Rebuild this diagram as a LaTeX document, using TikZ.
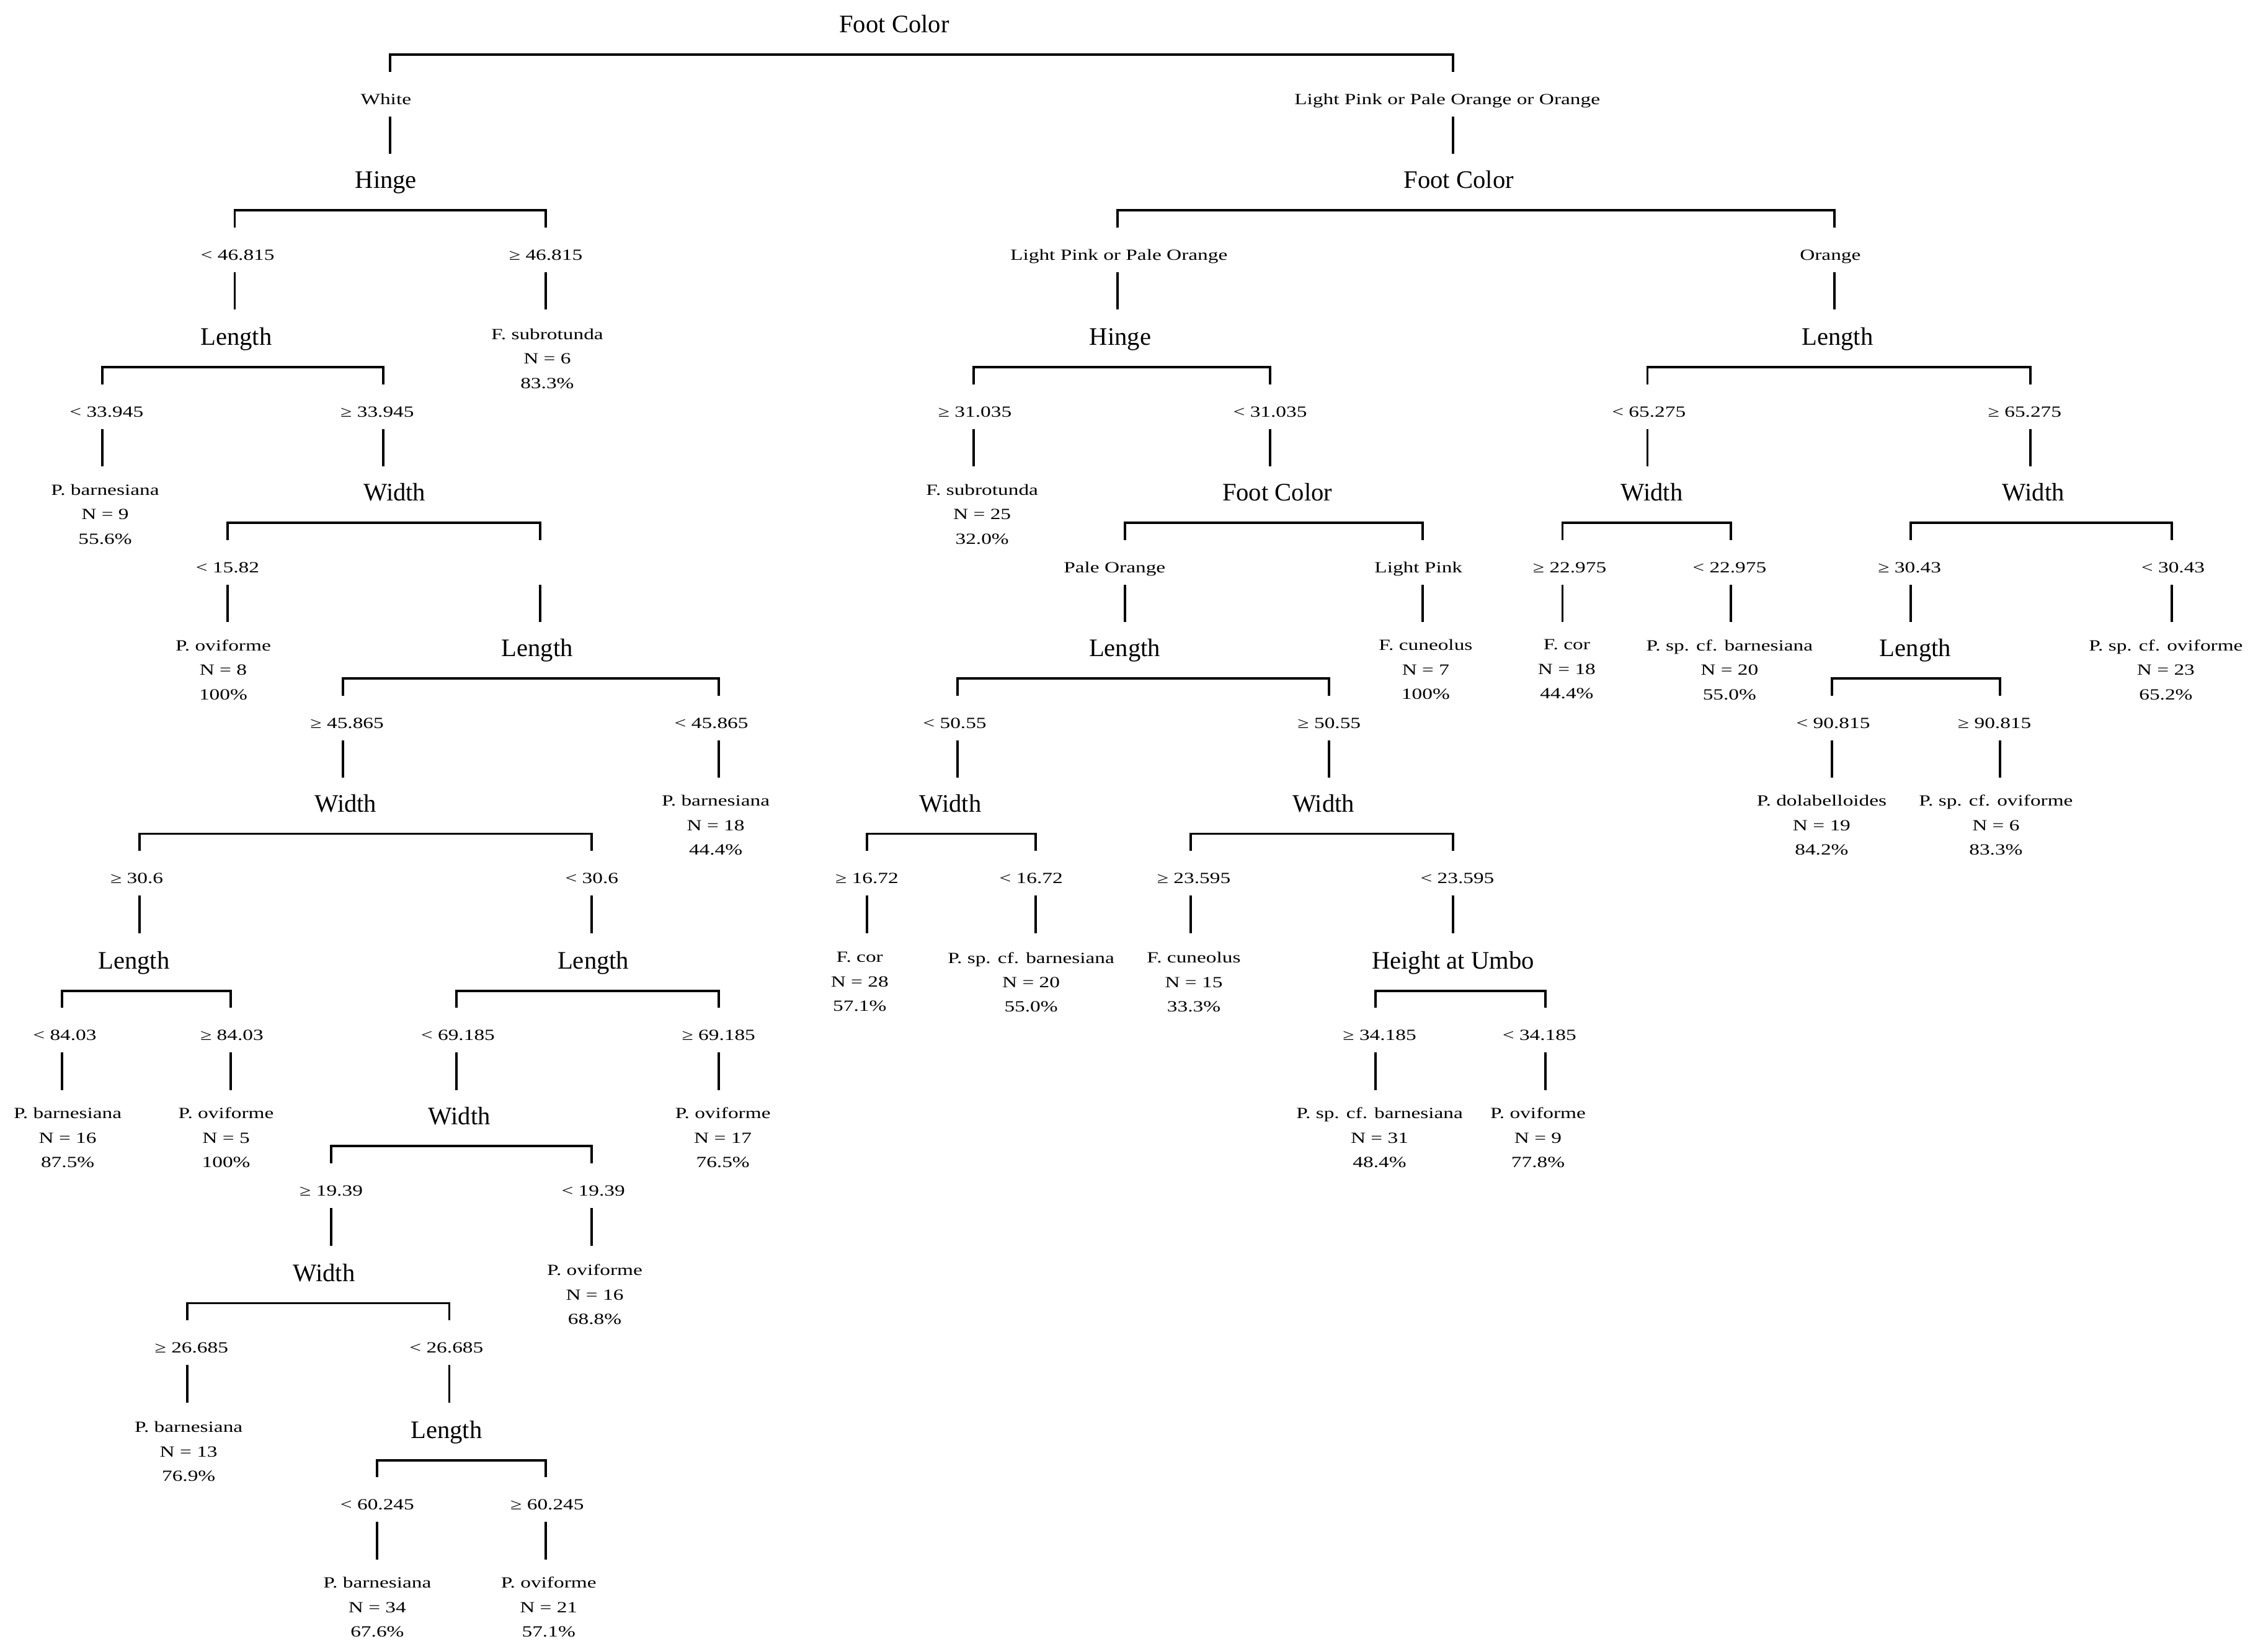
\documentclass[tikz,border=0pt]{standalone}
\usepackage{fontspec}
\setmainfont{Liberation Serif}
\newfontfamily\stretchfont{Liberation Serif}[FakeStretch=1.33]
\usetikzlibrary{calc}
\tikzset{
  edge/.style={line width=1.7pt},
  nm/.style={font=\fontsize{17.5}{20}\selectfont, inner sep=0pt, anchor=base},
  lab/.style={font=\stretchfont\fontsize{10.8}{17}\selectfont, inner sep=0pt, anchor=base},
  leaf/.style={font=\stretchfont\fontsize{10.8}{17}\selectfont, inner sep=0pt, anchor=north, align=center},
}
% split node: id, x, level y, text
\newcommand\tnode[4]{\node[nm] (#1) at (#2, #3+5.8) {#4};}
% leaf: id, x, level y, text
\newcommand\tleaf[4]{\node[leaf] (#1) at (#2, #3-6) {#4};}
% branch: id, parent y, line x, label x, label text
\newcommand\tbr[5]{%
  \node[lab] (#1) at (#4, #2+55.6) {#5};
  \coordinate (#1u) at (#3, #2+33);
  \coordinate (#1t) at (#3, #2+64);
  \coordinate (#1b) at (#3, #2+90);
  \draw[edge] (#1t) -- (#1b);
}
% bracket between two branches
\newcommand\tbrk[2]{\draw[edge] (#1u) -- ++(0,-12) -| (#2u);}
\begin{document}
\begin{tikzpicture}[x=1pt,y=-1pt]
\fill[white] (0,0) rectangle (1568,1147);
\useasboundingbox (0,0) rectangle (1568,1147);

% level 0
\tnode{root}{621}{17}{Foot Color}
\tbr{rA}{17}{271}{268}{White}
\tbr{rB}{17}{1009}{1005}{Light Pink or Pale Orange or Orange}
\tbrk{rA}{rB}

% level 1
\tnode{hgA}{268}{125}{Hinge}
\tbr{hgAa}{125}{163}{165}{< 46.815}
\tbr{hgAb}{125}{379}{379}{≥ 46.815}
\tbrk{hgAa}{hgAb}
\tnode{fcB}{1013}{125}{Foot Color}
\tbr{fcBa}{125}{776}{777}{Light Pink or Pale Orange}
\tbr{fcBb}{125}{1274}{1271}{Orange}
\tbrk{fcBa}{fcBb}

% level 2
\tnode{lnA}{164}{234}{Length}
\tbr{lnAa}{234}{71}{74}{< 33.945}
\tbr{lnAb}{234}{266}{262}{≥ 33.945}
\tbrk{lnAa}{lnAb}
\tleaf{lf1}{380}{234}{F. subrotunda\\N = 6\\83.3\%}
\tnode{hgB}{778}{234}{Hinge}
\tbr{hgBa}{234}{676}{677}{≥ 31.035}
\tbr{hgBb}{234}{882}{882}{< 31.035}
\tbrk{hgBa}{hgBb}
\tnode{lnB}{1276}{234}{Length}
\tbr{lnBa}{234}{1144}{1145}{< 65.275}
\tbr{lnBb}{234}{1410}{1406}{≥ 65.275}
\tbrk{lnBa}{lnBb}

% level 3
\tleaf{lf2}{73}{342}{P. barnesiana\\N = 9\\55.6\%}
\tnode{wdA}{274}{342}{Width}
\tbr{wdAa}{342}{158}{158}{< 15.82}
\coordinate (wdAbu) at (375,342+33);
\coordinate (wdAbt) at (375,342+64);
\coordinate (wdAbb) at (375,342+90);
\draw[edge] (wdAbt) -- (wdAbb);
\tbrk{wdAa}{wdAb}
\tleaf{lf3}{682}{342}{F. subrotunda\\N = 25\\32.0\%}
\tnode{fcC}{887}{342}{Foot Color}
\tbr{fcCa}{342}{781}{774}{Pale Orange}
\tbr{fcCb}{342}{988}{985}{Light Pink}
\tbrk{fcCa}{fcCb}
\tnode{wdB}{1147}{342}{Width}
\tbr{wdBa}{342}{1085}{1090}{≥ 22.975}
\tbr{wdBb}{342}{1202}{1201}{< 22.975}
\tbrk{wdBa}{wdBb}
\tnode{wdC}{1412}{342}{Width}
\tbr{wdCa}{342}{1327}{1326}{≥ 30.43}
\tbr{wdCb}{342}{1508}{1509}{< 30.43}
\tbrk{wdCa}{wdCb}

% level 4
\tleaf{lf4}{155}{450}{P. oviforme\\N = 8\\100\%}
\tnode{lnC}{373}{450}{Length}
\tbr{lnCa}{450}{238}{241}{≥ 45.865}
\tbr{lnCb}{450}{499}{494}{< 45.865}
\tbrk{lnCa}{lnCb}
\tnode{lnD}{781}{450}{Length}
\tbr{lnDa}{450}{665}{663}{< 50.55}
\tbr{lnDb}{450}{923}{923}{≥ 50.55}
\tbrk{lnDa}{lnDb}
\tleaf{lf5}{990}{450}{F. cuneolus\\N = 7\\100\%}
\tleaf{lf6}{1088}{450}{F. cor\\N = 18\\44.4\%}
\tleaf{lf7}{1201}{450}{P. sp. cf. barnesiana\\N = 20\\55.0\%}
\tnode{lnE}{1330}{450}{Length}
\tbr{lnEa}{450}{1272}{1273}{< 90.815}
\tbr{lnEb}{450}{1389}{1385}{≥ 90.815}
\tbrk{lnEa}{lnEb}
\tleaf{lf8}{1504}{450}{P. sp. cf. oviforme\\N = 23\\65.2\%}

% level 5
\tnode{wdD}{240}{558}{Width}
\tbr{wdDa}{558}{97}{95}{≥ 30.6}
\tbr{wdDb}{558}{411}{411}{< 30.6}
\tbrk{wdDa}{wdDb}
\tleaf{lf9}{497}{558}{P. barnesiana\\N = 18\\44.4\%}
\tnode{wdE}{660}{558}{Width}
\tbr{wdEa}{558}{602}{602}{≥ 16.72}
\tbr{wdEb}{558}{719}{716}{< 16.72}
\tbrk{wdEa}{wdEb}
\tnode{wdF}{919}{558}{Width}
\tbr{wdFa}{558}{827}{829}{≥ 23.595}
\tbr{wdFb}{558}{1009}{1012}{< 23.595}
\tbrk{wdFa}{wdFb}
\tleaf{lf10}{1265}{558}{P. dolabelloides\\N = 19\\84.2\%}
\tleaf{lf11}{1386}{558}{P. sp. cf. oviforme\\N = 6\\83.3\%}

% level 6
\tnode{lnF}{93}{667}{Length}
\tbr{lnFa}{667}{43}{45}{< 84.03}
\tbr{lnFb}{667}{160}{161}{≥ 84.03}
\tbrk{lnFa}{lnFb}
\tnode{lnG}{412}{667}{Length}
\tbr{lnGa}{667}{317}{318}{< 69.185}
\tbr{lnGb}{667}{499}{499}{≥ 69.185}
\tbrk{lnGa}{lnGb}
\tleaf{lf12}{597}{667}{F. cor\\N = 28\\57.1\%}
\tleaf{lf13}{716}{667}{P. sp. cf. barnesiana\\N = 20\\55.0\%}
\tleaf{lf14}{829}{667}{F. cuneolus\\N = 15\\33.3\%}
\tnode{hu}{1009}{667}{Height at Umbo}
\tbr{hua}{667}{955}{958}{≥ 34.185}
\tbr{hub}{667}{1073}{1069}{< 34.185}
\tbrk{hua}{hub}

% level 7
\tleaf{lf15}{47}{775}{P. barnesiana\\N = 16\\87.5\%}
\tleaf{lf16}{157}{775}{P. oviforme\\N = 5\\100\%}
\tnode{wdG}{319}{775}{Width}
\tbr{wdGa}{775}{230}{230}{≥ 19.39}
\tbr{wdGb}{775}{411}{412}{< 19.39}
\tbrk{wdGa}{wdGb}
\tleaf{lf17}{502}{775}{P. oviforme\\N = 17\\76.5\%}
\tleaf{lf18}{958}{775}{P. sp. cf. barnesiana\\N = 31\\48.4\%}
\tleaf{lf19}{1068}{775}{P. oviforme\\N = 9\\77.8\%}

% level 8
\tnode{wdH}{225}{884}{Width}
\tbr{wdHa}{884}{130}{133}{≥ 26.685}
\tbr{wdHb}{884}{312}{310}{< 26.685}
\tbrk{wdHa}{wdHb}
\tleaf{lf20}{413}{884}{P. oviforme\\N = 16\\68.8\%}

% level 9
\tleaf{lf21}{131}{993}{P. barnesiana\\N = 13\\76.9\%}
\tnode{lnH}{310}{993}{Length}
\tbr{lnHa}{993}{262}{262}{< 60.245}
\tbr{lnHb}{993}{379}{380}{≥ 60.245}
\tbrk{lnHa}{lnHb}

% level 10
\tleaf{lf22}{262}{1101}{P. barnesiana\\N = 34\\67.6\%}
\tleaf{lf23}{381}{1101}{P. oviforme\\N = 21\\57.1\%}
\end{tikzpicture}
\end{document}
